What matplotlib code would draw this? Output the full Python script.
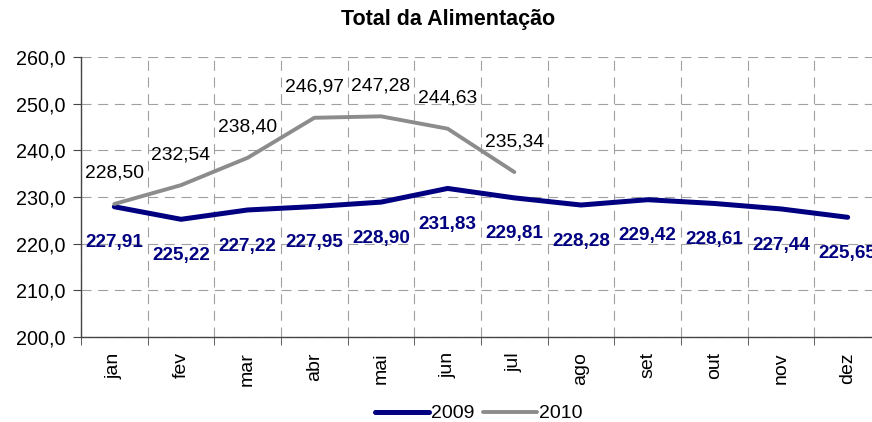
import matplotlib.pyplot as plt
import numpy as np

plt.rcParams['font.family'] = ['Liberation Sans', 'DejaVu Sans']

# data
months = ["jan", "fev", "mar", "abr", "mai", "jun", "jul", "ago", "set", "out", "nov", "dez"]
vals_2009 = [227.91, 225.22, 227.22, 227.95, 228.90, 231.83, 229.81, 228.28, 229.42, 228.61, 227.44, 225.65]
vals_2010 = [228.50, 232.54, 238.40, 246.97, 247.28, 244.63, 235.34]
y_ticks = [200, 210, 220, 230, 240, 250, 260]

navy = "#000080"
grey = "#8c8c8c"

fig = plt.figure(figsize=(8.72, 4.22), dpi=100)
ax = fig.add_axes([0.0929, 0.2014, 0.9174, 0.6636])

x = np.arange(len(months))
x10 = np.arange(len(vals_2010))

ax.plot(x, vals_2009, color=navy, lw=3.6, label="2009", solid_capstyle="round", zorder=3)
ax.plot(x10, vals_2010, color=grey, lw=2.8, label="2010", solid_capstyle="round", zorder=3)

# data labels
for xi, v in zip(x, vals_2009):
    ax.annotate(f"{v:.2f}".replace(".", ","), (xi, v), xytext=(0, -26),
                textcoords="offset points", ha="center", va="center",
                fontsize=13.6, fontweight="bold", color=navy)
for xi, v in zip(x10, vals_2010):
    ax.annotate(f"{v:.2f}".replace(".", ","), (xi, v), xytext=(0, 22),
                textcoords="offset points", ha="center", va="center",
                fontsize=13.9, color="black")

ax.set_xlim(-0.5, len(months) - 0.5)
ax.set_ylim(200, 260)
ax.set_yticks(y_ticks)
ax.set_yticklabels([f"{t:.1f}".replace(".", ",") for t in y_ticks], fontsize=14.2)

ax.set_xticks(x)
ax.set_xticklabels(months, rotation=90, fontsize=14)
ax.set_xticks(np.arange(-0.5, len(months)), minor=True)
ax.tick_params(axis="x", which="major", length=0, pad=11)
ax.tick_params(axis="x", which="minor", length=6, color="#444444")
ax.tick_params(axis="y", length=6, color="#444444", pad=5)

ax.grid(True, axis="y", which="major", color="#a0a0a0", ls=(0, (9, 6)), lw=0.8)
ax.grid(True, axis="x", which="minor", color="#a0a0a0", ls=(0, (9, 6)), lw=0.8)

for s in ["top", "right"]:
    ax.spines[s].set_visible(False)
for s in ["left", "bottom"]:
    ax.spines[s].set_color("#444444")
    ax.spines[s].set_linewidth(1.0)

fig.text(0.514, 0.953, "Total da Alimentação", ha="center", va="center",
         fontsize=15.5, fontweight="bold")

fig.legend(loc="center", bbox_to_anchor=(0.549, 0.02), ncol=2, frameon=False,
           fontsize=14, handlelength=2.8, handletextpad=0.1, columnspacing=0.45)

fig.savefig("out.png", dpi=100)
